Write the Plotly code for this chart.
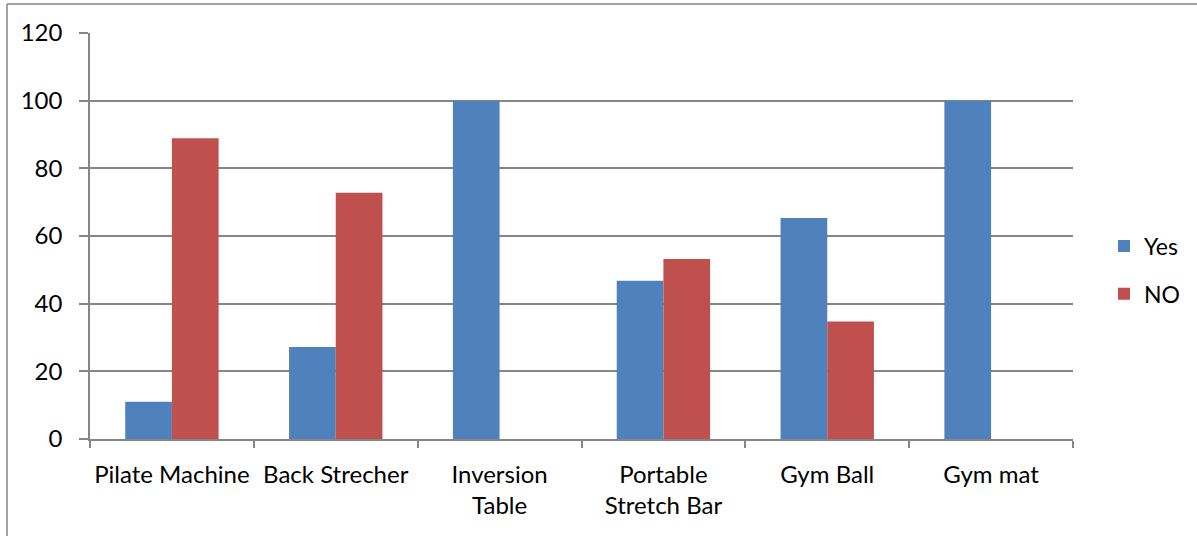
import plotly.graph_objects as go

categories = ["Pilate Machine", "Back Strecher", "Inversion<br>Table",
              "Portable<br>Stretch Bar", "Gym Ball", "Gym mat"]
yes_values = [11, 27.2, 100, 46.8, 65.3, 100]
no_values = [88.9, 72.8, 0, 53.2, 34.7, 0]
y_ticks = [0, 20, 40, 60, 80, 100, 120]

W, H = 1197, 536
L, R, T, B = 90, 124, 33, 97
pw, ph = W - L - R, H - T - B

fig = go.Figure()
fig.add_trace(go.Bar(x=categories, y=yes_values, name="Yes", legendgroup="a",
                     marker=dict(color="#4F81BD", line=dict(width=0))))
fig.add_trace(go.Bar(x=categories, y=no_values, name="NO", legendgroup="b",
                     marker=dict(color="#C0504D", line=dict(width=0))))

font = dict(family="Lato, 'Open Sans', sans-serif", size=24, color="#000000")
legend_font = dict(family="Lato, 'Open Sans', sans-serif", size=23, color="#000000")
fig.update_layout(
    width=W, height=H,
    margin=dict(l=L, r=R, t=T, b=B, autoexpand=False),
    paper_bgcolor="white", plot_bgcolor="white",
    barmode="group", bargap=0.43, bargroupgap=0,
    font=font,
    legend=dict(x=(1104 - L) / pw, y=1 - (270 - T) / ph, xanchor="left", yanchor="middle",
                tracegroupgap=15, traceorder="grouped", font=legend_font,
                itemwidth=30, bgcolor="rgba(0,0,0,0)"),
    xaxis=dict(type="category", showline=True, linecolor="#868686", linewidth=1.5,
               ticks="outside", tickson="boundaries", ticklen=7, tickcolor="#868686",
               tickwidth=1.5, showgrid=False, tickfont=font, ticklabelstandoff=13,
               tickangle=0),
    yaxis=dict(range=[0, 120], tickvals=y_ticks, showline=True, linecolor="#868686",
               linewidth=1.5, ticks="outside", ticklen=9, tickcolor="#868686", tickwidth=1.5,
               showgrid=True, gridcolor="#868686", gridwidth=1.5, zeroline=False,
               tickfont=font, ticklabelstandoff=12),
)

# outer chart border (top and left only visible)
x0 = (7 - L) / pw
x1 = (W - L) / pw
y_top = 1 + (T - 4) / ph
y_bot = -(B) / ph
fig.add_shape(type="line", xref="paper", yref="paper", x0=x0, x1=x1, y0=y_top, y1=y_top,
              line=dict(color="#868686", width=1.5))
fig.add_shape(type="line", xref="paper", yref="paper", x0=x0, x1=x0, y0=y_top, y1=y_bot,
              line=dict(color="#868686", width=1.5))

fig.write_html("out.html", config={"displayModeBar": False},
               post_script="document.body.style.margin='0';document.body.style.overflow='hidden';")
